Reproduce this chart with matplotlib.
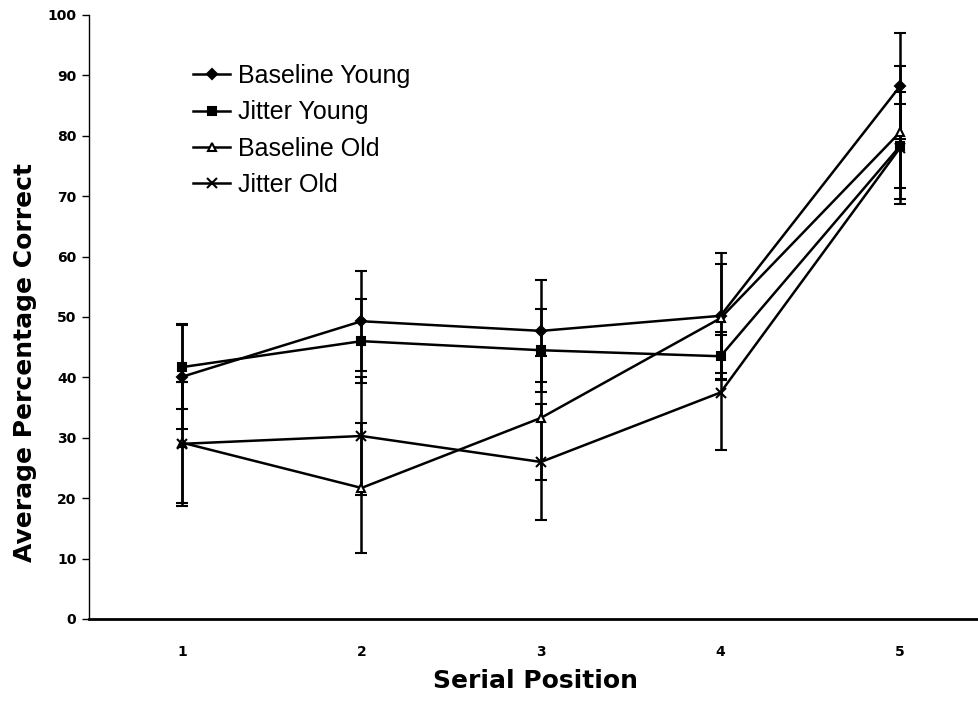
import matplotlib
matplotlib.use("Agg")
import matplotlib.pyplot as plt

plt.rcParams['font.family'] = ['Liberation Sans', 'DejaVu Sans']

positions = [1, 2, 3, 4, 5]
tick_labels = ["1", "2", "3", "4", "5"]

baseline_young = [40.1, 49.3, 47.7, 50.2, 88.2]
baseline_young_err = [8.7, 8.3, 8.5, 10.4, 8.8]
jitter_young = [41.7, 46.0, 44.5, 43.5, 78.3]
jitter_young_err = [7.0, 7.0, 6.9, 4.0, 7.0]
baseline_old = [29.2, 21.7, 33.3, 49.8, 80.6]
baseline_old_err = [10.0, 10.7, 10.3, 9.0, 11.0]
jitter_old = [29.0, 30.3, 26.0, 37.5, 78.0]
jitter_old_err = [10.3, 9.8, 9.6, 9.5, 9.3]

series = [
    ("Baseline Young", baseline_young, baseline_young_err, "D", "black", 5),
    ("Jitter Young", jitter_young, jitter_young_err, "s", "black", 6),
    ("Baseline Old", baseline_old, baseline_old_err, "^", "white", 6),
    ("Jitter Old", jitter_old, jitter_old_err, "x", "black", 7),
]

fig = plt.figure(figsize=(9.79, 7.15), dpi=100)
ax = fig.add_axes([89 / 979, 96 / 715, 890 / 979, 604 / 715])

for name, vals, errs, mk, fc, ms in series:
    ax.errorbar(positions, vals, yerr=errs, color="black", linewidth=1.8,
                elinewidth=1.8, capsize=4, capthick=2, marker=mk, markersize=ms,
                markerfacecolor=fc, markeredgecolor="black", markeredgewidth=1.5,
                label=name)

ax.set_xlim(0.482, 5.44)
ax.set_ylim(0, 100)
ax.set_yticks(range(0, 101, 10))
ax.set_xticks(positions)
ax.set_xticklabels(tick_labels)
ax.spines['top'].set_visible(False)
ax.spines['right'].set_visible(False)
ax.spines['left'].set_linewidth(1.0)
ax.spines['bottom'].set_linewidth(2.0)
ax.tick_params(axis='y', length=5, width=1, pad=4)
ax.tick_params(axis='x', length=0, pad=19)
for lab in ax.get_xticklabels() + ax.get_yticklabels():
    lab.set_fontfamily('DejaVu Sans')
    lab.set_fontweight('bold')
    lab.set_fontsize(10)

ax.set_ylabel("Average Percentage Correct", fontsize=18, fontweight='bold',
              family='DejaVu Sans')
ax.yaxis.set_label_coords(-0.058, 0.425)
ax.set_xlabel("Serial Position", fontsize=18, fontweight='bold',
              family='DejaVu Sans')
ax.xaxis.set_label_coords(0.502, -0.082)

handles, labels = ax.get_legend_handles_labels()
handles = [h[0] for h in handles]
fig.legend(handles, labels, loc="upper left", bbox_to_anchor=(193 / 979, 1 - 64 / 715),
           frameon=False, fontsize=18, borderpad=0, borderaxespad=0,
           handlelength=1.5, handletextpad=0.3, labelspacing=0.49)

fig.savefig("out.png", dpi=100)
